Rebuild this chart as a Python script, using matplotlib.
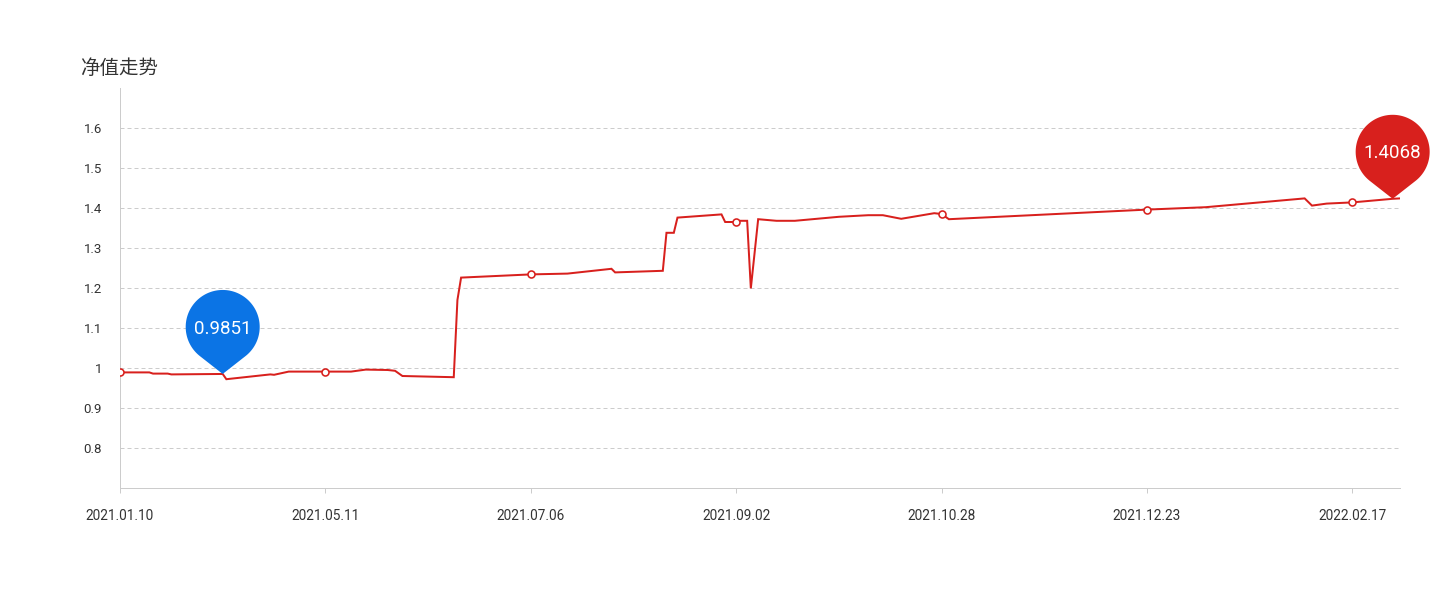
import numpy as np
import matplotlib
matplotlib.use("Agg")
import matplotlib.pyplot as plt
from matplotlib.path import Path
from matplotlib.patches import PathPatch
import matplotlib.transforms as mtransforms

# ---------------- data ----------------
title = "净值走势"
n_points = 350          # category positions on the x axis
label_step = 56         # one x label every 56 positions
x_labels = ["2021.01.10", "2021.05.11", "2021.07.06", "2021.09.02",
            "2021.10.28", "2021.12.23", "2022.02.17"]

day_idx = [0, 8, 9, 13, 14, 28, 29, 41, 42, 46, 56, 63, 67, 73, 75, 77, 91,
           92, 93, 112, 122, 134, 135, 148, 149, 151, 152, 164, 165, 168, 169,
           171, 172, 174, 179, 184, 196, 204, 208, 213, 222, 224, 226, 280,
           296, 323, 325, 329, 336, 347, 349]
nav = [0.989, 0.989, 0.986, 0.986, 0.984, 0.9851, 0.972, 0.984, 0.983, 0.991,
       0.991, 0.991, 0.996, 0.995, 0.993, 0.980, 0.977, 1.170, 1.226, 1.234,
       1.236, 1.248, 1.239, 1.243, 1.338, 1.338, 1.376, 1.384, 1.365, 1.365,
       1.368, 1.368, 1.199, 1.372, 1.368, 1.368, 1.378, 1.382, 1.382, 1.373,
       1.387, 1.385, 1.372, 1.396, 1.402, 1.424, 1.406, 1.411, 1.414, 1.423,
       1.424]

y_ticks = [0.8, 0.9, 1.0, 1.1, 1.2, 1.3, 1.4, 1.5, 1.6]
y_tick_labels = ["0.8", "0.9", "1", "1.1", "1.2", "1.3", "1.4", "1.5", "1.6"]

pin_idx = [28, 347]
pin_text = ["0.9851", "1.4068"]
pin_colors = ["#0b74e5", "#d8201d"]

# ---------------- style ----------------
LINE_RED = "#d8201d"
GRID = "#cccccc"
TXT = "#333333"
DPI = 100
PX = 72.0 / DPI  # points per pixel

plt.rcParams['font.family'] = ['Roboto', 'Noto Sans CJK SC', 'DejaVu Sans']

fig = plt.figure(figsize=(14.4, 6.0), dpi=DPI)
ax = fig.add_axes([120 / 1440, 112 / 600, 1280 / 1440, 400 / 600])

ax.set_xlim(0, n_points - 1)
ax.set_ylim(0.7, 1.7)

for s in ("top", "right"):
    ax.spines[s].set_visible(False)
for s in ("left", "bottom"):
    ax.spines[s].set_color(GRID)
    ax.spines[s].set_linewidth(1 * PX)

ax.set_yticks(y_ticks)
ax.set_yticklabels(y_tick_labels)
ax.yaxis.grid(True, color=GRID, linewidth=1 * PX, linestyle=(0, (4, 3)))
ax.set_axisbelow(True)

xt = list(range(0, n_points, label_step))
ax.set_xticks(xt)
ax.set_xticklabels(x_labels)

ax.tick_params(axis='y', length=0, pad=18 * PX, labelsize=9.5, labelcolor=TXT)
ax.tick_params(axis='x', length=5 * PX, width=1 * PX, color=GRID, pad=16 * PX,
               labelsize=9.8, labelcolor=TXT)

# line
ax.plot(day_idx, nav, color=LINE_RED, linewidth=2 * PX, zorder=3,
        solid_joinstyle='miter')

# circle symbols on label positions
lookup = dict(zip(day_idx, nav))
mx = [i for i in xt]
my = [lookup[i] for i in xt]
ax.plot(mx, my, linestyle='none', marker='o', markersize=7 * PX,
        markerfacecolor='white', markeredgecolor=LINE_RED,
        markeredgewidth=1.6 * PX, zorder=4)


# pin marker built in pixel units, tip at (0,0): circle + tangent lines to tip
def pin_path(r=37.0, H=84.0):
    c = H - r                      # centre height above the tip
    phi = np.arccos(r / c)         # angle between C->tip and C->tangent point
    # right tangent point angle (standard, y-up): -pi/2 + phi
    t_start = -np.pi / 2 + phi
    t_end = t_start - (2 * np.pi - 2 * phi)
    th = np.linspace(t_start, t_end, 120)   # clockwise? go over the top
    th = np.linspace(-np.pi / 2 - phi + 2 * np.pi, -np.pi / 2 + phi, 120)
    verts = [(r * np.cos(t), c + r * np.sin(t)) for t in th]
    codes = [Path.MOVETO] + [Path.LINETO] * (len(th) - 1)
    verts += [(0, 0), verts[0], verts[0]]
    codes += [Path.LINETO, Path.LINETO, Path.CLOSEPOLY]
    return Path(verts, codes), c


pp, cen = pin_path()
for i, txt, col in zip(pin_idx, pin_text, pin_colors):
    yv = lookup[i]
    tr = mtransforms.Affine2D() + mtransforms.ScaledTranslation(i, yv, ax.transData)
    patch = PathPatch(pp, facecolor=col, edgecolor='none', transform=tr,
                      zorder=6, clip_on=False)
    ax.add_patch(patch)
    fs = 13.5
    cap = 0.711 * fs / PX
    ax.annotate(txt, xy=(i, yv), xytext=(0, (cen - cap / 2) * PX),
                textcoords='offset points', ha='center', va='baseline',
                color='white', fontsize=fs, zorder=7,
                annotation_clip=False)

fig.text(80 / 1440, 1 - 68 / 600, title, fontsize=14, color=TXT,
         ha='left', va='center', family=['Noto Sans CJK SC', 'DejaVu Sans'])

fig.savefig("out.png", dpi=DPI, facecolor='white')
